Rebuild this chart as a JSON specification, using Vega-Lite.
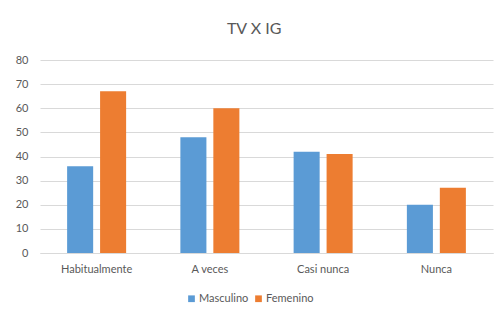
{
  "$schema": "https://vega.github.io/schema/vega-lite/v6.json",
  "width": 453,
  "height": 193,
  "autosize": {"type": "none"},
  "padding": {"left": 40, "top": 60, "right": 2, "bottom": 63},
  "background": "white",
  "title": {"text": "TV X IG", "anchor": "middle", "frame": "bounds", "fontSize": 16, "font": "Lato", "fontWeight": "normal", "color": "#595959", "offset": 17},
  "data": {"values": [
    {"cat": "Habitualmente", "serie": "Masculino", "v": 36},
    {"cat": "Habitualmente", "serie": "Femenino", "v": 67},
    {"cat": "A veces", "serie": "Masculino", "v": 48},
    {"cat": "A veces", "serie": "Femenino", "v": 60},
    {"cat": "Casi nunca", "serie": "Masculino", "v": 42},
    {"cat": "Casi nunca", "serie": "Femenino", "v": 41},
    {"cat": "Nunca", "serie": "Masculino", "v": 20},
    {"cat": "Nunca", "serie": "Femenino", "v": 27}
  ]},
  "mark": {"type": "bar"},
  "encoding": {
    "x": {"field": "cat", "type": "nominal", "sort": ["Habitualmente", "A veces", "Casi nunca", "Nunca"],
      "scale": {"paddingInner": 0.479, "paddingOuter": 0.2395},
      "axis": {"title": null, "labelAngle": 0, "ticks": false, "domainColor": "#D9D9D9", "labelPadding": 10, "labelFontSize": 11, "labelFont": "Lato", "labelColor": "#595959"}},
    "xOffset": {"field": "serie", "type": "nominal", "sort": ["Masculino", "Femenino"], "scale": {"paddingInner": 0.21, "paddingOuter": 0}},
    "y": {"field": "v", "type": "quantitative", "scale": {"domain": [0, 80], "nice": false},
      "axis": {"title": null, "values": [0, 10, 20, 30, 40, 50, 60, 70, 80], "labelOverlap": false, "domain": false, "ticks": false, "grid": true, "gridColor": "#D9D9D9", "labelPadding": 12, "labelFontSize": 11, "labelFont": "Lato", "labelColor": "#595959"}},
    "color": {"field": "serie", "type": "nominal", "sort": ["Masculino", "Femenino"],
      "scale": {"domain": ["Masculino", "Femenino"], "range": ["#5B9BD5", "#ED7D31"]},
      "legend": {"title": null, "orient": "none", "direction": "horizontal", "legendX": 146, "legendY": 233, "symbolType": "square", "symbolSize": 45, "symbolStrokeWidth": 0, "labelFontSize": 11, "labelFont": "Lato", "labelColor": "#595959", "columnPadding": 4, "labelOffset": 2}}
  },
  "config": {"view": {"stroke": null}}
}
